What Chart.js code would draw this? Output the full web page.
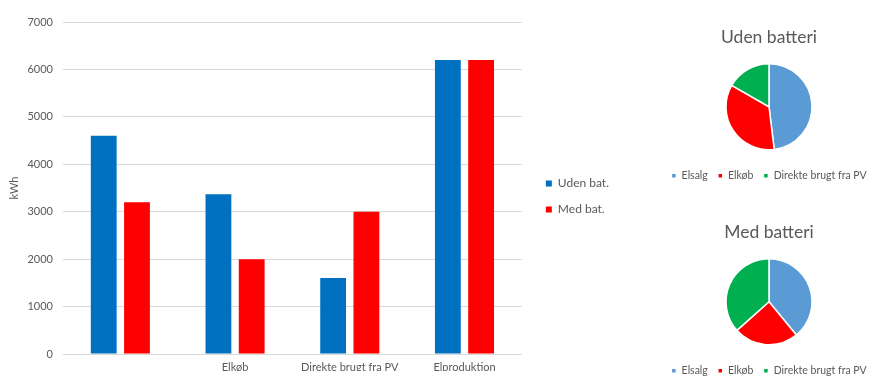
<!DOCTYPE html>
<html>
<head>
<meta charset="utf-8">
<script src="https://cdn.jsdelivr.net/npm/chart.js@4"></script>
<style>
  html, body { margin: 0; padding: 0; background: #fff; width: 876px; height: 376px; overflow: hidden; }
  canvas { position: absolute; }
</style>
</head>
<body>
<canvas id="bar" width="640" height="376" style="left:0;top:0"></canvas>
<canvas id="pie1" width="226" height="191" style="left:656px;top:0"></canvas>
<canvas id="pie2" width="226" height="191" style="left:656px;top:195px"></canvas>
<script>
// ---- data ----
const categories = ['Elsalg', 'Elkøb', 'Direkte brugt fra PV', 'Elproduktion'];
const xTickLabels = ['', 'Elkøb', 'Direkte brugt fra PV', 'Elproduktion'];
const seriesNames = ['Uden bat.', 'Med bat.'];
const udenBat = [4600, 3370, 1600, 6200];
const medBat = [3200, 2000, 3000, 6200];
const yMax = 7000;
const yStep = 1000;
const yTitle = 'kWh';

const pieLabels = ['Elsalg', 'Elkøb', 'Direkte brugt fra PV'];
const pieTitles = ['Uden batteri', 'Med batteri'];
const pieUden = [4600, 3370, 1600];
const pieMed = [3200, 2000, 3000];

// ---- style ----
const FONT = 'Lato, "Open Sans", sans-serif';
const GREY = '#595959';
const BLUE = '#0070C0';
const RED = '#FF0000';
const PIE_COLORS = ['#5B9BD5', '#FF0000', '#00B050'];

Chart.defaults.font.family = FONT;
Chart.defaults.color = GREY;

new Chart(document.getElementById('bar'), {
  type: 'bar',
  data: {
    labels: categories,
    datasets: [
      { label: seriesNames[0], data: udenBat, backgroundColor: BLUE, barPercentage: 0.776, categoryPercentage: 0.58 },
      { label: seriesNames[1], data: medBat, backgroundColor: RED, barPercentage: 0.776, categoryPercentage: 0.58 }
    ]
  },
  options: {
    responsive: false,
    animation: false,
    devicePixelRatio: 1,
    layout: { padding: { top: 22, left: 4, right: 21, bottom: 5 } },
    plugins: {
      tooltip: { enabled: false },
      legend: {
        position: 'right',
        align: 'center',
        labels: { boxWidth: 6, boxHeight: 6, padding: 14, font: { size: 12, family: FONT }, color: GREY }
      }
    },
    scales: {
      x: {
        grid: { display: false, drawTicks: false },
        border: { display: false },
        ticks: {
          padding: 7,
          font: { size: 11, family: FONT },
          color: GREY,
          maxRotation: 0,
          autoSkip: false,
          callback: (v, i) => xTickLabels[i]
        },
        afterFit: s => { s.height = 17; }
      },
      y: {
        min: 0,
        max: yMax,
        ticks: {
          stepSize: yStep, padding: 10, font: { size: 11, family: FONT }, color: GREY,
          callback: v => String(v)
        },
        grid: { color: '#d9d9d9', drawTicks: false },
        border: { display: false },
        title: { display: true, text: yTitle, font: { size: 11, family: FONT }, color: GREY, padding: 4 },
        afterFit: s => { s.width = 59; }
      },
      gap: {
        type: 'linear',
        position: 'right',
        display: true,
        grid: { display: false },
        border: { display: false },
        ticks: { display: false },
        afterFit: s => { s.width = 10; }
      }
    }
  }
});

function makePie(id, title, values) {
  new Chart(document.getElementById(id), {
    type: 'pie',
    data: {
      labels: pieLabels,
      datasets: [{ data: values, backgroundColor: PIE_COLORS, borderColor: '#ffffff', borderWidth: 1.5, radius: 43 }]
    },
    options: {
      responsive: false,
      animation: false,
      devicePixelRatio: 1,
      layout: { padding: 0 },
      plugins: {
        tooltip: { enabled: false },
        title: {
          display: true,
          text: title,
          font: { size: 17.5, family: FONT, weight: 'normal' },
          color: GREY,
          padding: { top: 26.5, bottom: 5.5 }
        },
        legend: {
          position: 'bottom',
          labels: { boxWidth: 5, boxHeight: 5, padding: 10, font: { size: 10.5, family: FONT }, color: GREY }
        }
      }
    }
  });
}
makePie('pie1', pieTitles[0], pieUden);
makePie('pie2', pieTitles[1], pieMed);
</script>
</body>
</html>
